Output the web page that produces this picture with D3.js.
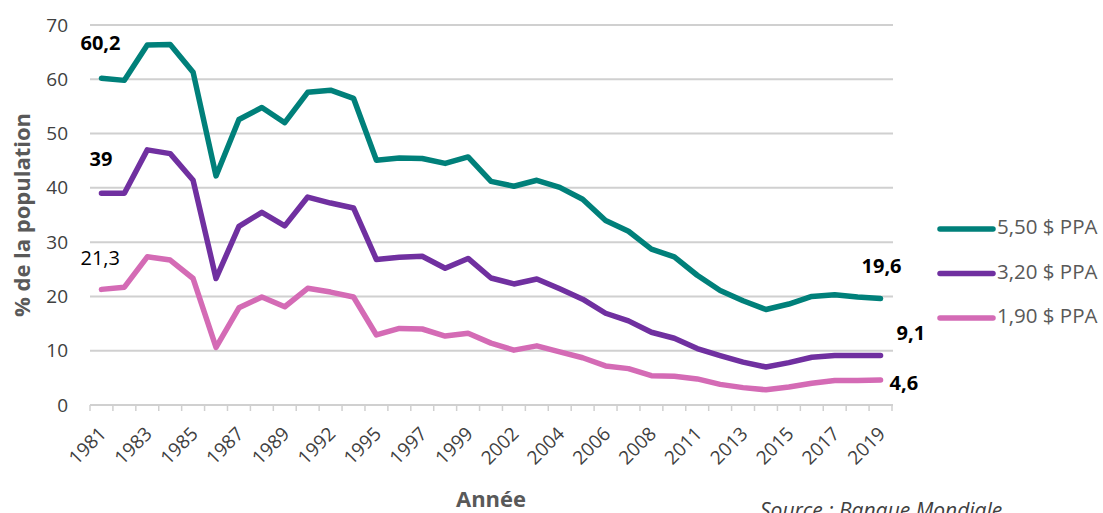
<!DOCTYPE html>
<html>
<head>
<meta charset="utf-8">
<script src="https://cdn.jsdelivr.net/npm/d3@7/dist/d3.min.js"></script>
<style>
  html, body { margin: 0; padding: 0; background: #fff; }
  svg { display: block; font-family: "Open Sans", "Noto Sans", sans-serif; }
</style>
</head>
<body>
<svg id="chart" width="1103" height="513"></svg>
<script>
// Years on the category axis
const years = [1981, 1982, 1983, 1984, 1985, 1986, 1987, 1988, 1989, 1990,
  1992, 1993, 1995, 1996, 1997, 1998, 1999, 2000, 2002, 2003, 2004, 2005,
  2006, 2007, 2008, 2010, 2011, 2012, 2013, 2014, 2015, 2016, 2017, 2018, 2019];

// Years that carry a tick label
const tickYears = [1981, 1983, 1985, 1987, 1989, 1992, 1995, 1997, 1999, 2002,
  2004, 2006, 2008, 2011, 2013, 2015, 2017, 2019];

const yTicks = [0, 10, 20, 30, 40, 50, 60, 70];

// Poverty headcount (% of population) per threshold
const ppa550 = [60.2, 59.8, 66.3, 66.4, 61.3, 42.2, 52.6, 54.8, 52.0, 57.6,
  58.0, 56.5, 45.1, 45.5, 45.4, 44.5, 45.7, 41.2, 40.3, 41.4, 40.1, 37.9,
  34.0, 32.0, 28.7, 27.3, 23.9, 21.1, 19.2, 17.6, 18.6, 20.0, 20.3, 19.9, 19.6];

const ppa320 = [39.0, 39.0, 47.0, 46.3, 41.4, 23.3, 32.9, 35.5, 33.0, 38.3,
  37.2, 36.3, 26.8, 27.2, 27.4, 25.2, 27.0, 23.4, 22.3, 23.2, 21.4, 19.5,
  16.9, 15.5, 13.4, 12.3, 10.4, 9.1, 7.9, 7.0, 7.8, 8.8, 9.1, 9.1, 9.1];

const ppa190 = [21.3, 21.7, 27.3, 26.7, 23.3, 10.6, 17.9, 19.9, 18.1, 21.5,
  20.8, 19.9, 12.9, 14.1, 14.0, 12.7, 13.2, 11.4, 10.1, 10.9, 9.8, 8.7,
  7.2, 6.7, 5.4, 5.3, 4.8, 3.8, 3.2, 2.8, 3.3, 4.0, 4.5, 4.5, 4.6];

const seriesNames = ["5,50 $ PPA", "3,20 $ PPA", "1,90 $ PPA"];
const seriesColors = ["#00807a", "#7030a0", "#d46bb5"];
const seriesValues = [ppa550, ppa320, ppa190];

const svg = d3.select("#chart");

const x = d3.scaleBand().domain(years).range([90, 892]).padding(0);
const y = d3.scaleLinear().domain([0, 70]).range([405, 25]);
const cx = yr => x(yr) + x.bandwidth() / 2;

// Horizontal gridlines
svg.append("g")
  .selectAll("line")
  .data(yTicks.filter(t => t > 0))
  .join("line")
  .attr("x1", 90).attr("x2", 893)
  .attr("y1", d => y(d)).attr("y2", d => y(d))
  .attr("stroke", "#d0d0d0").attr("stroke-width", 2);

// Y axis labels
const yAxis = d3.axisLeft(y).tickValues(yTicks).tickSize(0).tickPadding(0)
  .tickFormat(d3.format("d"));
const gy = svg.append("g").attr("transform", "translate(68,0)").call(yAxis);
gy.select(".domain").remove();
gy.selectAll("text")
  .attr("font-size", 19).attr("fill", "#404040")
  .attr("font-family", "'Open Sans', sans-serif");

// X axis: baseline with ticks between categories
const gx = svg.append("g");
gx.append("line")
  .attr("x1", 90).attr("x2", 893).attr("y1", y(0)).attr("y2", y(0))
  .attr("stroke", "#d0d0d0").attr("stroke-width", 2);
const boundaries = years.map(yr => x(yr)).concat([x.range()[1]]);
gx.selectAll("line.tk")
  .data(boundaries)
  .join("line").attr("class", "tk")
  .attr("x1", d => d).attr("x2", d => d)
  .attr("y1", y(0)).attr("y2", y(0) + 6)
  .attr("stroke", "#d0d0d0").attr("stroke-width", 1.5);
gx.selectAll("text")
  .data(tickYears)
  .join("text")
  .attr("transform", d => `translate(${cx(d) + 6},${y(0) + 30}) rotate(-45)`)
  .attr("text-anchor", "end")
  .attr("font-size", 19).attr("fill", "#404040")
  .text(d => d);

// Series lines
const line = d3.line()
  .x((d, i) => cx(years[i]))
  .y(d => y(d));

svg.append("g")
  .selectAll("path")
  .data(seriesValues)
  .join("path")
  .attr("d", d => line(d))
  .attr("fill", "none")
  .attr("stroke", (d, i) => seriesColors[i])
  .attr("stroke-width", 5.5)
  .attr("stroke-linejoin", "round")
  .attr("stroke-linecap", "round");

// Value labels at the first and last years
const fmt = v => String(v).replace(".", ",");
const first = years[0], last = years[years.length - 1];
const valueLabels = [
  { yr: first, v: ppa550[0], dx: -21, dy: -34, bold: true },
  { yr: first, v: ppa320[0], dx: -12, dy: -33, bold: true },
  { yr: first, v: ppa190[0], dx: -21, dy: -30, bold: false },
  { yr: last, v: ppa550[ppa550.length - 1], dx: -19, dy: -31, bold: true },
  { yr: last, v: ppa320[ppa320.length - 1], dx: 16, dy: -21, bold: true },
  { yr: last, v: ppa190[ppa190.length - 1], dx: 9, dy: 5, bold: true }
];
svg.append("g")
  .selectAll("text")
  .data(valueLabels)
  .join("text")
  .attr("x", d => cx(d.yr) + d.dx)
  .attr("y", d => y(d.v) + d.dy)
  .attr("dominant-baseline", "middle")
  .attr("font-size", 20)
  .attr("font-weight", d => d.bold ? 700 : 400)
  .attr("fill", "#000")
  .text(d => fmt(d.v));

// Legend
const legend = svg.append("g");
const lg = legend.selectAll("g")
  .data(seriesNames)
  .join("g")
  .attr("transform", (d, i) => `translate(940,${229 + i * 44.5})`);
lg.append("line")
  .attr("x1", 0).attr("x2", 53)
  .attr("stroke", (d, i) => seriesColors[i])
  .attr("stroke-width", 5.5).attr("stroke-linecap", "round");
lg.append("text")
  .attr("x", 57).attr("dominant-baseline", "middle")
  .attr("font-size", 20.5).attr("fill", "#595959")
  .text(d => d);

// Axis titles and source
svg.append("text")
  .attr("transform", "translate(24,215) rotate(-90)")
  .attr("text-anchor", "middle").attr("dominant-baseline", "middle")
  .attr("font-size", 22).attr("font-weight", 700).attr("fill", "#595959")
  .text("% de la population");

svg.append("text")
  .attr("x", 491).attr("y", 507)
  .attr("text-anchor", "middle")
  .attr("font-size", 22).attr("font-weight", 700).attr("fill", "#595959")
  .text("Année");

svg.append("text")
  .attr("x", 760).attr("y", 518)
  .attr("font-size", 21).attr("font-style", "italic").attr("fill", "#404040")
  .text("Source : Banque Mondiale");
</script>
</body>
</html>
